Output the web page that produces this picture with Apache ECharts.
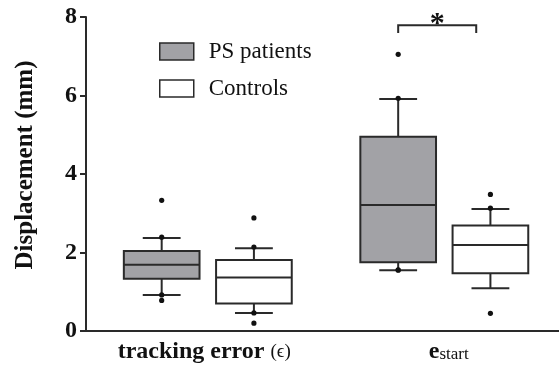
<!DOCTYPE html>
<html>
<head>
<meta charset="utf-8">
<script src="https://cdn.jsdelivr.net/npm/echarts@6/dist/echarts.min.js"></script>
<style>html,body{margin:0;padding:0;background:#fff;}#main{width:559px;height:374px;}</style>
</head>
<body>
<div id="main"></div>
<script>
// ---- data ----
var categories = ['tracking error (ϵ)', 'estart'];
var seriesNames = ['PS patients', 'Controls'];
// [lowWhisker, Q1, median, Q3, highWhisker] per category
var psBoxes = [[0.92, 1.33, 1.69, 2.04, 2.37], [1.55, 1.75, 3.21, 4.95, 5.91]];
var ctrlBoxes = [[0.46, 0.70, 1.36, 1.81, 2.11], [1.09, 1.47, 2.19, 2.69, 3.11]];
// individual points shown (outliers and whisker-end points)
var psPoints = [[3.33, 2.39, 0.92, 0.78], [7.05, 5.93, 1.55, 1.56]];
var ctrlPoints = [[2.88, 2.14, 0.46, 0.20], [3.48, 3.13, 0.45]];
var yTicks = [0, 2, 4, 6, 8];
var sigBracket = [1, 7.79, 7.59]; // category, top, leg end

var FONT = '"Liberation Serif", "Times New Roman", serif';
var LINE = '#2a2a2a';
var GRAY = '#a2a2a6';
var boxOffsets = [-0.18, 0.21];  // fraction of band
var BOXW = 0.32, CAPW = 0.16;

function boxData(arr) {
  return arr.map(function (b, i) { return [i].concat(b); });
}
function pointData(arr) {
  var out = [];
  arr.forEach(function (pts, i) { pts.forEach(function (v) { out.push([i, v]); }); });
  return out;
}
function makeBoxRender(sIdx, fill) {
  return function (params, api) {
    var ci = api.value(0);
    var c = api.coord([ci, 0]);
    var band = api.size([1, 0])[0];
    var cx = c[0] + boxOffsets[sIdx] * band;
    var w = BOXW * band, cw = CAPW * band;
    var yLo = api.coord([ci, api.value(1)])[1];
    var yQ1 = api.coord([ci, api.value(2)])[1];
    var yMd = api.coord([ci, api.value(3)])[1];
    var yQ3 = api.coord([ci, api.value(4)])[1];
    var yHi = api.coord([ci, api.value(5)])[1];
    var st = { stroke: LINE, lineWidth: 2, fill: null };
    return {
      type: 'group',
      children: [
        { type: 'line', shape: { x1: cx, y1: yHi, x2: cx, y2: yQ3 }, style: st },
        { type: 'line', shape: { x1: cx, y1: yQ1, x2: cx, y2: yLo }, style: st },
        { type: 'line', shape: { x1: cx - cw / 2, y1: yHi, x2: cx + cw / 2, y2: yHi }, style: st },
        { type: 'line', shape: { x1: cx - cw / 2, y1: yLo, x2: cx + cw / 2, y2: yLo }, style: st },
        { type: 'rect', shape: { x: cx - w / 2, y: yQ3, width: w, height: yQ1 - yQ3 },
          style: { fill: fill, stroke: LINE, lineWidth: 2 } },
        { type: 'line', shape: { x1: cx - w / 2, y1: yMd, x2: cx + w / 2, y2: yMd }, style: st }
      ]
    };
  };
}
function makePointRender(sIdx) {
  return function (params, api) {
    var ci = api.value(0);
    var p = api.coord([ci, api.value(1)]);
    var band = api.size([1, 0])[0];
    return { type: 'circle', shape: { cx: p[0] + boxOffsets[sIdx] * band, cy: p[1], r: 2.6 },
      style: { fill: '#111' } };
  };
}

var chart = echarts.init(document.getElementById('main'), null, { renderer: 'canvas' });
chart.setOption({
  animation: false,
  backgroundColor: '#fff',
  grid: { left: 86, right: 0, top: 17, bottom: 43 },
  legend: {
    orient: 'vertical', left: 154, top: 35, itemWidth: 34, itemHeight: 17, itemGap: 14,
    textStyle: { fontFamily: FONT, fontSize: 23, color: '#111', lineHeight: 17, padding: [0, 0, 0, 10] },
    data: [
      { name: seriesNames[0], icon: 'rect', itemStyle: { color: GRAY, borderColor: LINE, borderWidth: 1.5 } },
      { name: seriesNames[1], icon: 'rect', itemStyle: { color: '#fff', borderColor: LINE, borderWidth: 1.5 } }
    ]
  },
  xAxis: {
    type: 'category', data: categories,
    axisLine: { lineStyle: { color: LINE, width: 2 } },
    axisTick: { show: false },
    axisLabel: {
      margin: 9,
      formatter: function (v, i) {
        if (i === 0) return '{b|tracking error }{n|(ϵ)}';
        return '{e|e}{s|start}';
      },
      rich: {
        b: { fontFamily: FONT, fontWeight: 'bold', fontSize: 24, color: '#111' },
        n: { fontFamily: FONT, fontSize: 19, color: '#111' },
        e: { fontFamily: FONT, fontWeight: 'bold', fontSize: 24, color: '#111', padding: [0, 0, 0, 16] },
        s: { fontFamily: FONT, fontSize: 17, color: '#111', padding: [5, 0, 0, 0] }
      }
    }
  },
  yAxis: {
    type: 'value', min: 0, max: 8, interval: 2,
    name: 'Displacement (mm)', nameLocation: 'middle', nameGap: 48, nameRotate: 90,
    nameTextStyle: { fontFamily: FONT, fontWeight: 'bold', fontSize: 25, color: '#111', padding: [0, 0, 0, 18] },
    axisLine: { show: true, lineStyle: { color: LINE, width: 2 } },
    axisTick: { show: true, length: 6, lineStyle: { color: LINE, width: 2 } },
    splitLine: { show: false },
    axisLabel: {
      margin: 9, fontFamily: FONT, fontWeight: 'bold', fontSize: 24, color: '#111',
      formatter: function (v) { return yTicks.indexOf(v) >= 0 ? String(v) : ''; }
    }
  },
  series: [
    { name: seriesNames[0], type: 'custom', renderItem: makeBoxRender(0, GRAY), data: boxData(psBoxes),
      itemStyle: { color: GRAY }, encode: { x: 0, y: [1, 2, 3, 4, 5] }, z: 2 },
    { name: seriesNames[1], type: 'custom', renderItem: makeBoxRender(1, '#fff'), data: boxData(ctrlBoxes),
      itemStyle: { color: '#fff' }, encode: { x: 0, y: [1, 2, 3, 4, 5] }, z: 2 },
    { type: 'custom', renderItem: makePointRender(0), data: pointData(psPoints), encode: { x: 0, y: 1 }, z: 3 },
    { type: 'custom', renderItem: makePointRender(1), data: pointData(ctrlPoints), encode: { x: 0, y: 1 }, z: 3 },
    { type: 'custom', z: 3, data: [sigBracket], encode: { x: 0, y: [1, 2] },
      renderItem: function (params, api) {
        var ci = api.value(0);
        var band = api.size([1, 0])[0];
        var c = api.coord([ci, api.value(1)]);
        var yLeg = api.coord([ci, api.value(2)])[1];
        var x1 = c[0] + boxOffsets[0] * band, x2 = c[0] + 0.15 * band;
        return { type: 'group', children: [
          { type: 'polyline', shape: { points: [[x1, yLeg], [x1, c[1]], [x2, c[1]], [x2, yLeg]] },
            style: { stroke: LINE, lineWidth: 2, fill: null } },
          { type: 'text', x: (x1 + x2) / 2, y: c[1] - 16,
            style: { text: '*', fontFamily: FONT, fontWeight: 'bold', fontSize: 30, fill: '#111', align: 'center', verticalAlign: 'top' } }
        ] };
      }
    }
  ]
});
</script>
</body>
</html>
